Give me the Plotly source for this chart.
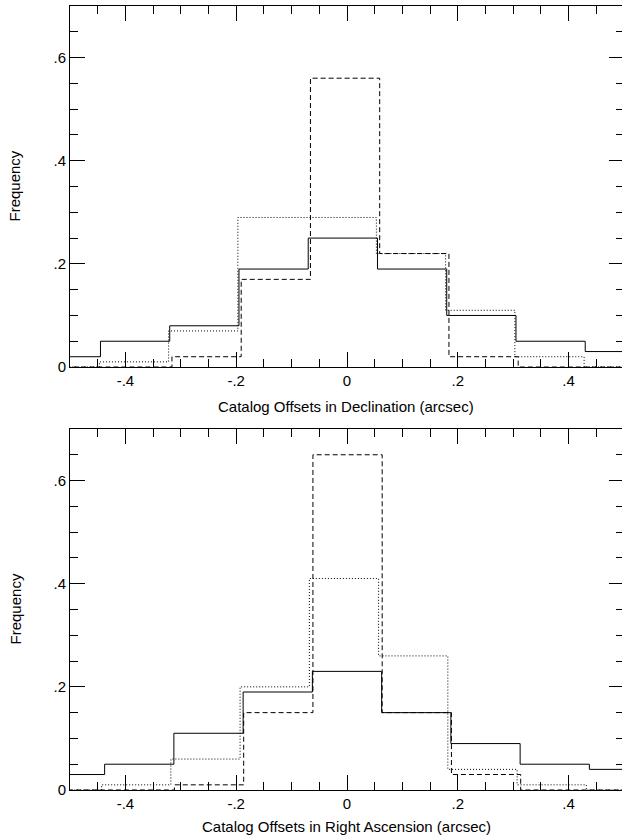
import plotly.graph_objects as go

# ---- data ----
dec_edges = [-0.57, -0.445, -0.32, -0.195, -0.07, 0.055, 0.18, 0.305, 0.43, 0.555]
dec_solid = [0.02, 0.05, 0.08, 0.19, 0.25, 0.19, 0.10, 0.05, 0.03]
dec_dashed = [0.0, 0.0, 0.02, 0.17, 0.56, 0.22, 0.02, 0.0, 0.0]
dec_dotted = [0.0, 0.01, 0.07, 0.29, 0.29, 0.22, 0.11, 0.02, 0.0]

ra_edges = [-0.5625, -0.4375, -0.3125, -0.1875, -0.0625, 0.0625, 0.1875, 0.3125, 0.4375, 0.5625]
ra_solid = [0.03, 0.05, 0.11, 0.19, 0.23, 0.15, 0.09, 0.05, 0.04]
ra_dashed = [0.0, 0.0, 0.01, 0.15, 0.65, 0.15, 0.03, 0.0, 0.0]
ra_dotted = [0.0, 0.01, 0.06, 0.20, 0.41, 0.26, 0.04, 0.01, 0.0]

# small horizontal offsets of the overplotted histograms (as seen in the figure)
dec_offsets = {"solid": 0.0, "dashed": 0.004, "dotted": -0.002}
ra_offsets = {"solid": 0.0, "dashed": 0.001, "dotted": -0.0055}

x_tickvals = [-0.4, -0.2, 0.0, 0.2, 0.4]
x_ticktext = ["-.4", "-.2", "0", ".2", ".4"]
y_tickvals = [0.0, 0.2, 0.4, 0.6]
y_ticktext = ["0", ".2", ".4", ".6"]

x_titles = ["Catalog Offsets in Declination (arcsec)",
            "Catalog Offsets in Right Ascension (arcsec)"]
y_title = "Frequency"

FONT = "Liberation Sans, Arial, Helvetica, sans-serif"
DASHES = {"solid": "solid", "dashed": "5px,3px", "dotted": "1px,2px"}

fig = go.Figure()

panels = [
    ("x", "y", dec_edges, {"solid": dec_solid, "dashed": dec_dashed, "dotted": dec_dotted}, dec_offsets),
    ("x2", "y2", ra_edges, {"solid": ra_solid, "dashed": ra_dashed, "dotted": ra_dotted}, ra_offsets),
]

for xa, ya, edges, series, offs in panels:
    for name in ["solid", "dotted", "dashed"]:
        vals = series[name]
        xs = [e + offs[name] for e in edges]
        ys = list(vals) + [vals[-1]]
        fig.add_trace(go.Scatter(
            x=xs, y=ys, mode="lines", line_shape="hv",
            line=dict(color="black", width=1, dash=DASHES[name]),
            xaxis=xa, yaxis=ya, showlegend=False, hoverinfo="skip"))

tick_common = dict(
    ticks="inside", ticklen=15, tickwidth=1, tickcolor="black",
    showgrid=False, zeroline=False,
    tickfont=dict(family=FONT, size=15, color="black"),
    minor=dict(dtick=0.05, ticks="inside", ticklen=8, tickwidth=1, tickcolor="black", showgrid=False),
)
axis_common = dict(showline=True, linecolor="black", linewidth=1, mirror="ticks", **tick_common)

top_dom = [0.5395, 1.0]
bot_dom = [0.0, 0.4605]

# the frame's right edge sits just past the visible page, as in the original
FIG_W, FIG_H = 624, 838
L, R, T, B = 70, 0, 6, 48

fig.update_layout(
    width=FIG_W, height=FIG_H,
    margin=dict(l=L, r=R, t=T, b=B),
    paper_bgcolor="white", plot_bgcolor="white",
    font=dict(family=FONT, size=15, color="black"),
    xaxis=dict(range=[-0.5, 0.5], domain=[0, 1], anchor="y",
               tickvals=x_tickvals, ticktext=x_ticktext, **axis_common),
    yaxis=dict(range=[0, 0.7], domain=top_dom, anchor="x",
               tickvals=y_tickvals, ticktext=y_ticktext, **axis_common),
    xaxis2=dict(range=[-0.5, 0.5], domain=[0, 1], anchor="y2",
                tickvals=x_tickvals, ticktext=x_ticktext, **axis_common),
    yaxis2=dict(range=[0, 0.7], domain=bot_dom, anchor="x2",
                tickvals=y_tickvals, ticktext=y_ticktext, **axis_common),
)

plot_w = FIG_W - L - R
plot_h = FIG_H - T - B
def ypix_to_paper(px):
    return (FIG_H - B - px) / plot_h

title_x = (346.3 - L) / plot_w
annots = [
    dict(text=x_titles[0], x=title_x, y=ypix_to_paper(406), xref="paper", yref="paper",
         xanchor="center", yanchor="middle", showarrow=False),
    dict(text=x_titles[1], x=title_x, y=ypix_to_paper(826), xref="paper", yref="paper",
         xanchor="center", yanchor="middle", showarrow=False),
    dict(text=y_title, x=(15 - L) / plot_w, y=(top_dom[0] + top_dom[1]) / 2, xref="paper", yref="paper",
         xanchor="center", yanchor="middle", textangle=-90, showarrow=False),
    dict(text=y_title, x=(15 - L) / plot_w, y=(bot_dom[0] + bot_dom[1]) / 2, xref="paper", yref="paper",
         xanchor="center", yanchor="middle", textangle=-90, showarrow=False),
]
fig.update_layout(annotations=annots)

fig.write_html(
    "out.html",
    post_script="document.documentElement.style.overflow='hidden';"
                "document.body.style.overflow='hidden';document.body.style.margin='0';",
)
